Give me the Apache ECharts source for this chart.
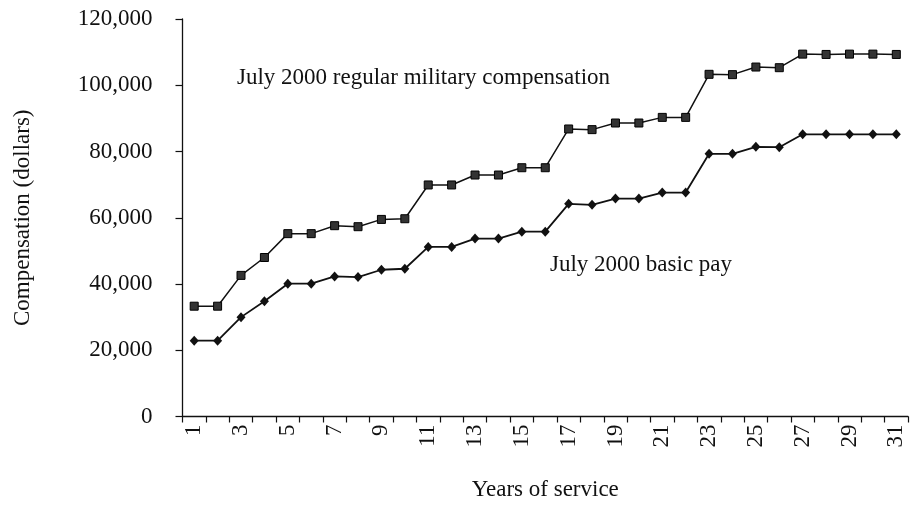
<!DOCTYPE html>
<html>
<head>
<meta charset="utf-8">
<script src="https://cdn.jsdelivr.net/npm/echarts@6/dist/echarts.min.js"></script>
<style>
html,body{margin:0;padding:0;background:#fff;}
#chart{width:917px;height:518px;}
</style>
</head>
<body>
<div id="chart"></div>
<script>
var years = ['1','2','3','4','5','6','7','8','9','10','11','12','13','14','15','16','17','18','19','20','21','22','23','24','25','26','27','28','29','30','31'];
var basicPay = [22900,22900,30000,34800,40100,40100,42300,42100,44300,44600,51200,51200,53700,53700,55800,55800,64200,63900,65800,65800,67600,67600,79300,79300,81400,81300,85200,85200,85200,85200,85200];
var regularComp = [33300,33300,42600,48000,55200,55200,57600,57300,59500,59700,69900,69900,72900,72900,75100,75100,86800,86600,88600,88600,90300,90300,103300,103200,105500,105300,109400,109300,109400,109400,109300];
var yTicks = {min:0, max:120000, interval:20000};
var labelRegular = 'July 2000 regular military compensation';
var labelBasic = 'July 2000 basic pay';
var xName = 'Years of service';
var yName = 'Compensation (dollars)';

var FONT = '"Liberation Serif", "DejaVu Serif", serif';
var FS = 23;
var chart = echarts.init(document.getElementById('chart'), null, {renderer:'canvas'});
chart.setOption({
  animation:false,
  backgroundColor:'#ffffff',
  grid:{left:182.5, right:9, top:19, bottom:101.5, containLabel:false},
  xAxis:{
    type:'category',
    data:years,
    boundaryGap:true,
    name:xName,
    nameLocation:'middle',
    nameGap:62,
    nameTextStyle:{fontFamily:FONT, fontSize:FS, color:'#111'},
    axisLine:{lineStyle:{color:'#111', width:1.3}},
    axisTick:{show:true, interval:0, length:6, lineStyle:{color:'#111', width:1.2}},
    axisLabel:{interval:1, rotate:90, margin:8, fontFamily:FONT, fontSize:FS, color:'#111'}
  },
  yAxis:{
    type:'value',
    min:yTicks.min, max:yTicks.max, interval:yTicks.interval,
    name:yName,
    nameLocation:'middle',
    nameRotate:90,
    nameGap:148,
    nameTextStyle:{fontFamily:FONT, fontSize:FS, color:'#111'},
    axisLine:{show:true, lineStyle:{color:'#111', width:1.3}},
    axisTick:{show:true, length:7, lineStyle:{color:'#111', width:1.2}},
    splitLine:{show:false},
    axisLabel:{margin:30, fontFamily:FONT, fontSize:FS, color:'#111',
      formatter:function(v){return v.toLocaleString('en-US');}}
  },
  series:[
    {
      name:labelRegular, type:'line', data:regularComp,
      symbol:'rect', symbolSize:8,
      lineStyle:{color:'#111', width:1.5},
      itemStyle:{color:'#333', borderColor:'#000', borderWidth:1}
    },
    {
      name:labelBasic, type:'line', data:basicPay,
      symbol:'diamond', symbolSize:[9,10],
      lineStyle:{color:'#111', width:1.8},
      itemStyle:{color:'#111'}
    }
  ],
  graphic:[
    {type:'text', left:237, top:66, style:{text:labelRegular, font:FS + 'px ' + FONT, fill:'#111'}},
    {type:'text', left:550, top:253, style:{text:labelBasic, font:FS + 'px ' + FONT, fill:'#111'}}
  ]
});
</script>
</body>
</html>
